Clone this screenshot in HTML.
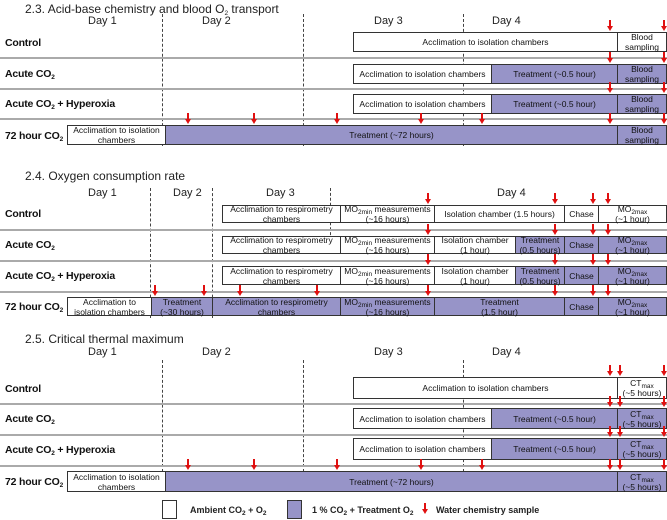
<!DOCTYPE html>
<html><head><meta charset="utf-8"><style>
body{margin:0;background:#fff;font-family:"Liberation Sans",sans-serif;}
#c{position:relative;width:667px;height:520px;overflow:hidden;}
.t{position:absolute;font-size:12px;color:#222;white-space:nowrap;}
.d{position:absolute;font-size:11px;color:#222;white-space:nowrap;}
.r{position:absolute;font-size:10.5px;font-weight:bold;color:#111;white-space:nowrap;letter-spacing:-0.2px;}
.b{position:absolute;box-sizing:border-box;border:1px solid #333;display:flex;align-items:center;justify-content:center;text-align:center;font-size:8.5px;line-height:10px;color:#111;background:#fff;}
.b span{display:block;}
.p{background:#9794c8;}
.dash{position:absolute;width:0;border-left:1px dashed #444;}
.sep{position:absolute;left:0;width:667px;height:2px;background:#aaa;}
.ar{position:absolute;width:1.5px;background:#e01010;}
.ah{position:absolute;width:0;height:0;border-left:3px solid transparent;border-right:3px solid transparent;border-top:5px solid #e01010;}
sub{font-size:6.5px;vertical-align:-2px;line-height:0;}
</style></head><body><div id="c"></div>
<script>
const c=document.getElementById('c');
function add(cls,x,y,w,h,html,name){const e=document.createElement('div');e.className=cls;e.style.left=x+'px';e.style.top=y+'px';if(w!=null)e.style.width=w+'px';if(h!=null)e.style.height=h+'px';if(html)e.innerHTML=html;


c.appendChild(e);return e;}
function arrow(x,y){add('ar',x-0.75,y,null,7,'','water-sample-arrow');add('ah',x-3,y+6,null,null,'','water-sample-arrowhead');}
const rowNames=['Control','Acute CO<sub>2</sub>','Acute CO<sub>2</sub> + Hyperoxia','72 hour CO<sub>2</sub>'];
const sections=[
 {title:'2.3. Acid-base chemistry and blood O<sub>2</sub> transport',ty:2,days:[[88,'Day 1'],[202,'Day 2'],[374,'Day 3'],[492,'Day 4']],dy:15,dash:[[162,14,146],[303,14,146],[463,14,146]],
  rows:[{y:32,h:20,ly:37,boxes:[[353,617,'Acclimation to isolation chambers',0],[617,666,'Blood<br>sampling',0]],ar:[610,664]},
        {y:64,h:20,ly:68,boxes:[[353,491,'Acclimation to isolation chambers',0],[491,617,'Treatment (~0.5 hour)',1],[617,666,'Blood<br>sampling',1]],ar:[610,664]},
        {y:94,h:20,ly:98,boxes:[[353,491,'Acclimation to isolation chambers',0],[491,617,'Treatment (~0.5 hour)',1],[617,666,'Blood<br>sampling',1]],ar:[610,664]},
        {y:125,h:20,ly:130,boxes:[[67,165,'Acclimation to isolation<br>chambers',0],[165,617,'Treatment (~72 hours)',1],[617,666,'Blood<br>sampling',1]],ar:[188,254,337,421,482,610,664]}],seps:[57,88,118]},
 {title:'2.4. Oxygen consumption rate',ty:169,days:[[88,'Day 1'],[173,'Day 2'],[266,'Day 3'],[497,'Day 4']],dy:187,dash:[[150,188,318],[212,188,318],[330,188,240]],
  rows:[{y:205,h:18,ly:208,boxes:[[222,340,'Acclimation to respirometry<br>chambers',0],[340,434,'MO<sub>2min</sub> measurements<br>(~16 hours)',0],[434,564,'Isolation chamber (1.5 hours)',0],[564,598,'Chase',0],[598,666,'MO<sub>2max</sub><br>(~1 hour)',0]],ar:[428,555,593,608]},
        {y:236,h:18,ly:239,boxes:[[222,340,'Acclimation to respirometry<br>chambers',0],[340,434,'MO<sub>2min</sub> measurements<br>(~16 hours)',0],[434,515,'Isolation chamber<br>(1 hour)',0],[515,564,'Treatment<br>(0.5 hours)',1],[564,598,'Chase',1],[598,666,'MO<sub>2max</sub><br>(~1 hour)',1]],ar:[428,555,593,608]},
        {y:266,h:19,ly:270,boxes:[[222,340,'Acclimation to respirometry<br>chambers',0],[340,434,'MO<sub>2min</sub> measurements<br>(~16 hours)',0],[434,515,'Isolation chamber<br>(1 hour)',0],[515,564,'Treatment<br>(0.5 hours)',1],[564,598,'Chase',1],[598,666,'MO<sub>2max</sub><br>(~1 hour)',1]],ar:[428,555,593,608]},
        {y:297,h:19,ly:301,boxes:[[67,151,'Acclimation to<br>isolation chambers',0],[151,212,'Treatment<br>(~30 hours)',1],[212,340,'Acclimation to respirometry<br>chambers',1],[340,434,'MO<sub>2min</sub> measurements<br>(~16 hours)',1],[434,564,'Treatment<br>(1.5 hour)',1],[564,598,'Chase',1],[598,666,'MO<sub>2max</sub><br>(~1 hour)',1]],ar:[155,204,240,317,428,555,593,608]}],seps:[229,260,291]},
 {title:'2.5. Critical thermal maximum',ty:332,days:[[88,'Day 1'],[202,'Day 2'],[374,'Day 3'],[492,'Day 4']],dy:346,dash:[[162,360,472],[303,360,472],[463,360,472]],
  rows:[{y:377,h:22,ly:383,boxes:[[353,617,'Acclimation to isolation chambers',0],[617,666,'CT<sub>max</sub><br>(~5 hours)',0]],ar:[610,620,664]},
        {y:408,h:21,ly:413,boxes:[[353,491,'Acclimation to isolation chambers',0],[491,617,'Treatment (~0.5 hour)',1],[617,666,'CT<sub>max</sub><br>(~5 hours)',1]],ar:[610,620,664]},
        {y:438,h:22,ly:444,boxes:[[353,491,'Acclimation to isolation chambers',0],[491,617,'Treatment (~0.5 hour)',1],[617,666,'CT<sub>max</sub><br>(~5 hours)',1]],ar:[610,620,664]},
        {y:471,h:21,ly:476,boxes:[[67,165,'Acclimation to isolation<br>chambers',0],[165,617,'Treatment (~72 hours)',1],[617,666,'CT<sub>max</sub><br>(~5 hours)',1]],ar:[188,254,337,421,482,610,620,664]}],seps:[403,434,465]}
];
sections.forEach((s)=>{
 add('t',25,s.ty,null,null,s.title,'section-title');
 s.days.forEach(d=>add('d',d[0],s.dy,null,null,d[1],'day-label'));
 s.dash.forEach(d=>add('dash',d[0],d[1],null,d[2]-d[1],'','day-divider'));
 s.seps.forEach(y=>add('sep',0,y,null,null,'','row-separator'));
 s.rows.forEach((r,ri)=>{
  add('r',5,r.ly,null,null,rowNames[ri],'row-label');
  r.boxes.forEach(b=>add('b'+(b[3]?' p':''),b[0],r.y,b[1]-b[0]+1,r.h,'<span>'+b[2]+'</span>',b[3]?'treatment-box':'ambient-box'));
  r.ar.forEach(x=>arrow(x,r.y-12));
 });
});
add('b',162,500,15,19,'','legend-ambient-swatch');
add('d',190,504,null,null,'<span style="font-size:9px;font-weight:bold">Ambient CO<sub>2</sub> + O<sub>2</sub></span>','legend-ambient-label');
add('b p',287,500,15,19,'','legend-treatment-swatch');
add('d',312,504,null,null,'<span style="font-size:9px;font-weight:bold">1 % CO<sub>2</sub> + Treatment O<sub>2</sub></span>','legend-treatment-label');
arrow(425,503);
add('d',436,504,null,null,'<span style="font-size:9px;font-weight:bold">Water chemistry sample</span>','legend-arrow-label');
</script></body></html>
